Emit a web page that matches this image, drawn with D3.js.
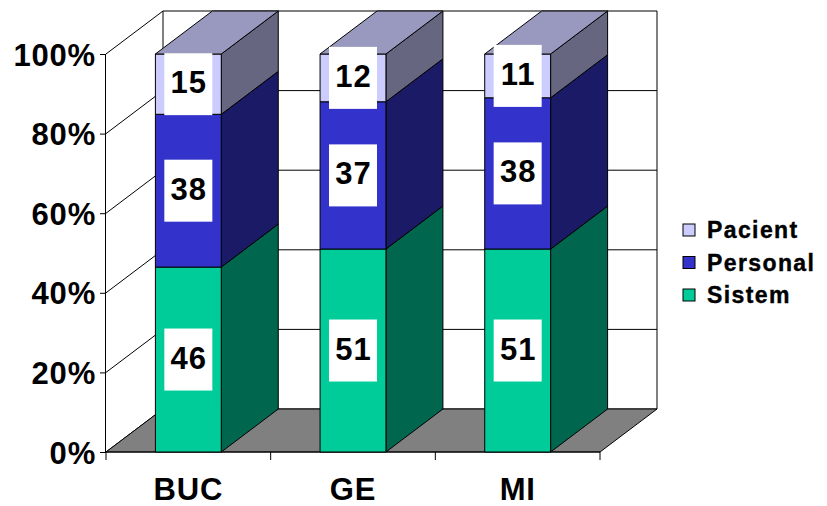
<!DOCTYPE html>
<html>
<head>
<meta charset="utf-8">
<script src="https://cdn.jsdelivr.net/npm/d3@7"></script>
<style>
  html, body { margin: 0; padding: 0; background: #fff; }
  svg { display: block; font-family: Arial, "Liberation Sans", sans-serif; font-weight: bold; }
</style>
</head>
<body>
<svg id="chart" width="827" height="506"></svg>
<script>
// Data
const categories = ["BUC", "GE", "MI"];
const seriesNames = ["Sistem", "Personal", "Pacient"];
const sistem   = [46, 51, 51];
const personal = [38, 37, 38];
const pacient  = [15, 12, 11];
const yTickValues = [0, 0.2, 0.4, 0.6, 0.8, 1];

// Colours per series: front, top, side faces
const palette = {
  Sistem:   { front: "#00CC99", top: "#009973", side: "#00664D" },
  Personal: { front: "#3333CC", top: "#262699", side: "#1A1A66" },
  Pacient:  { front: "#CCCCFF", top: "#9999BF", side: "#666680" }
};

const rows = categories.map((c, i) => ({
  cat: c, Sistem: sistem[i], Personal: personal[i], Pacient: pacient[i]
}));

const stacked = d3.stack().keys(seriesNames).offset(d3.stackOffsetExpand)(rows);

const svg = d3.select("#chart");

// Plot frame (front plane) and depth offset
const plotLeft = 106, plotRight = 600, plotBottom = 452, plotTop = 54;
const dx = 57, dy = -43;

const x = d3.scaleBand().domain(categories).range([plotLeft, plotRight])
  .paddingInner(0.6).paddingOuter(0.3);
const y = d3.scaleLinear().domain([0, 1]).range([plotBottom, plotTop]);

const line = d3.line();

// Walls
const walls = svg.append("g");
walls.append("path")
  .attr("d", line([[plotLeft, plotBottom], [plotLeft + dx, plotBottom + dy], [plotLeft + dx, plotTop + dy], [plotLeft, plotTop]]) + "Z")
  .attr("fill", "#fff");
walls.append("path")
  .attr("d", line([[plotLeft + dx, plotBottom + dy], [plotRight + dx, plotBottom + dy], [plotRight + dx, plotTop + dy], [plotLeft + dx, plotTop + dy]]) + "Z")
  .attr("fill", "#fff");

// Gridlines on side and back walls
const grid = svg.append("g").attr("stroke", "#000").attr("stroke-width", 1).attr("fill", "none");
yTickValues.forEach(v => {
  const yy = y(v);
  grid.append("path").attr("d", line([[plotLeft, yy], [plotLeft + dx, yy + dy], [plotRight + dx, yy + dy]]));
});
grid.append("path").attr("d", line([[plotLeft + dx, plotBottom + dy], [plotLeft + dx, plotTop + dy]]));
grid.append("path").attr("d", line([[plotRight + dx, plotBottom + dy], [plotRight + dx, plotTop + dy]]));

// Floor
svg.append("path")
  .attr("d", line([[plotLeft, plotBottom], [plotRight, plotBottom], [plotRight + dx, plotBottom + dy], [plotLeft + dx, plotBottom + dy]]) + "Z")
  .attr("fill", "#808080").attr("stroke", "#000").attr("stroke-width", 1);

// Y axis
const yAxis = d3.axisLeft(y).tickValues(yTickValues).tickFormat(d3.format(".0%"))
  .tickSize(6).tickPadding(4);
const gy = svg.append("g").attr("transform", `translate(${plotLeft},0)`).call(yAxis);
gy.select(".domain").attr("stroke", "#000").attr("d", `M-0.5,${plotTop}V${plotBottom}`);
gy.selectAll(".tick line").attr("stroke", "#000");
gy.selectAll(".tick text")
  .attr("fill", "#000").attr("font-size", 31).attr("font-weight", "bold")
  .attr("font-family", "Arial, 'Liberation Sans', sans-serif")
  .attr("letter-spacing", 0.8)
  .attr("dy", "0.36em");

// X axis: baseline, ticks at category boundaries, labels at centres
const gx = svg.append("g").attr("stroke", "#000");
gx.append("path").attr("d", line([[plotLeft, plotBottom], [plotRight, plotBottom]]));
const bounds = [plotLeft].concat(categories.map(c => x(c) - x.step() * x.paddingInner() / 2 + x.step()));
bounds.forEach(bx => gx.append("path").attr("d", line([[bx, plotBottom], [bx, plotBottom + 8]])));
svg.append("g").selectAll("text").data(categories).join("text")
  .attr("x", d => x(d) + x.bandwidth() / 2)
  .attr("y", 500)
  .attr("text-anchor", "middle")
  .attr("font-size", 31)
  .attr("letter-spacing", 0.8)
  .attr("fill", "#000")
  .text(d => d);

// Bars
const bars = svg.append("g").attr("stroke", "#000").attr("stroke-width", 1).attr("stroke-linejoin", "round");
categories.forEach((c, i) => {
  const x0 = x(c), x1 = x(c) + x.bandwidth();
  stacked.forEach((layer, li) => {
    const s = layer[i];
    const yb = y(s[0]), yt = y(s[1]);
    const col = palette[layer.key];
    bars.append("path")
      .attr("d", line([[x1, yb], [x1 + dx, yb + dy], [x1 + dx, yt + dy], [x1, yt]]) + "Z")
      .attr("fill", col.side);
    bars.append("rect")
      .attr("x", x0).attr("y", yt).attr("width", x1 - x0).attr("height", yb - yt)
      .attr("fill", col.front);
    if (li === stacked.length - 1) {
      bars.append("path")
        .attr("d", line([[x0, yt], [x1, yt], [x1 + dx, yt + dy], [x0 + dx, yt + dy]]) + "Z")
        .attr("fill", col.top);
    }
  });
});

// Value labels in white boxes
const labelSize = 31;
const labels = svg.append("g");
categories.forEach((c, i) => {
  const cx = x(c) + x.bandwidth() / 2;
  stacked.forEach(layer => {
    const s = layer[i];
    const cy = (y(s[0]) + y(s[1])) / 2;
    const g = labels.append("g");
    g.append("rect").attr("fill", "#fff")
      .attr("x", cx - 24).attr("y", cy - 31).attr("width", 48).attr("height", 62);
    g.append("text")
      .attr("x", cx + 0.5).attr("y", cy - 2 + labelSize * 0.358)
      .attr("text-anchor", "middle").attr("font-size", labelSize).attr("fill", "#000")
      .attr("letter-spacing", 1)
      .text(s.data[layer.key]);
  });
});

// Legend
const legendItems = ["Pacient", "Personal", "Sistem"];
const legend = svg.append("g").selectAll("g").data(legendItems).join("g")
  .attr("transform", (d, i) => `translate(683,${230 + i * 32.5})`);
legend.append("rect")
  .attr("x", 0).attr("y", -6).attr("width", 12).attr("height", 12)
  .attr("fill", d => palette[d].front).attr("stroke", "#000").attr("stroke-width", 1);
legend.append("text")
  .attr("x", 24).attr("y", 8)
  .attr("font-size", 23).attr("letter-spacing", 1.4).attr("fill", "#000")
  .attr("stroke", "#000").attr("stroke-width", 0.4)
  .text(d => d);
</script>
</body>
</html>
